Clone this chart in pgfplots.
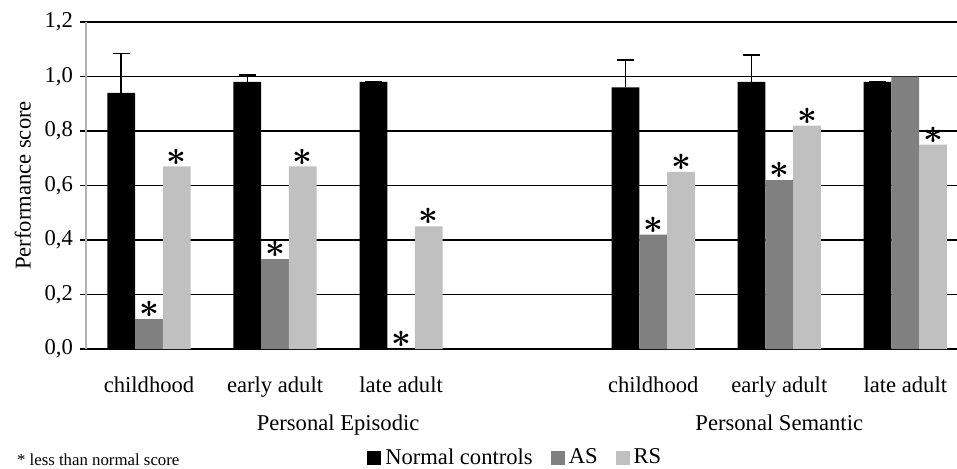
\documentclass[border=0pt]{standalone}
\usepackage{pgfplots}
\pgfplotsset{compat=1.18}
\usepackage{fontspec}
\setmainfont{Liberation Serif}
\definecolor{asgray}{HTML}{808080}
\definecolor{rsgray}{HTML}{C0C0C0}
\newcommand\lblfont{\fontsize{11.3}{13.5}\selectfont}
\newcommand\starfont{\fontsize{18}{18}\selectfont\boldmath}

\begin{document}
\begin{tikzpicture}
\begin{axis}[
  scale only axis, width=435.5pt, height=163.5pt,
  xmin=-0.5, xmax=6.41, ymin=0, ymax=1.2,
  ybar, bar width=0.22,
  axis x line=bottom, axis y line=left,
  axis line style={-},
  x axis line style={black, line width=0.7pt},
  y axis line style={draw=black!30, line width=0.6pt},
  xtick={0,1,2,4,5,6},
  xticklabels={childhood, early adult, late adult, childhood, early adult, late adult},
  xtick style={draw=none},
  xticklabel style={yshift=-7.5pt},
  ytick={0,0.2,0.4,0.6,0.8,1.0,1.2},
  ymajorgrids, major grid style={black, line width=0.7pt},
  ytick style={black, line width=0.7pt}, tick align=outside, major tick length=3pt,
  yticklabel style={/pgf/number format/.cd, fixed, fixed zerofill, precision=1, use comma, assume math mode=true},
  tick label style={font=\lblfont},
  ylabel={Performance score}, label style={font=\lblfont},
  legend columns=3,
  legend style={at={(0.494,-0.333)}, anchor=center, draw=none, fill=none, font=\lblfont,
    /tikz/every even column/.append style={column sep=7pt}},
  legend image code/.code={\fill[#1] (0pt,-3.5pt) rectangle (7pt,3.5pt);},
]
\addplot[fill=black, draw=none, bar shift=-0.22,
  error bars/.cd, y dir=plus, y explicit,
  error bar style={black, line width=0.8pt},
  error mark options={rotate=90, mark size=4.25pt, black, line width=0.8pt}]
  coordinates {(0,0.94) +- (0,0.145) (1,0.98) +- (0,0.025) (2,0.98) +- (0,0)
               (4,0.96) +- (0,0.10) (5,0.98) +- (0,0.10) (6,0.98) +- (0,0)};
\addlegendentry{Normal controls}
\addplot[fill=asgray, draw=none, bar shift=0,
  point meta=explicit symbolic, nodes near coords={\pgfplotspointmeta},
  nodes near coords style={font=\starfont, inner sep=0.5pt, anchor=south, black}]
  coordinates {(0,0.11) [$\ast$] (1,0.33) [$\ast$] (2,0) [$\ast$]
               (4,0.42) [$\ast$] (5,0.62) [$\ast$] (6,1.0) [{}]};
\addlegendentry{AS}
\addplot[fill=rsgray, draw=none, bar shift=0.22,
  point meta=explicit symbolic, nodes near coords={\pgfplotspointmeta},
  nodes near coords style={font=\starfont, inner sep=0.5pt, anchor=south, black}]
  coordinates {(0,0.67) [$\ast$] (1,0.67) [$\ast$] (2,0.45) [$\ast$]
               (4,0.65) [$\ast$] (5,0.82) [$\ast$] (6,0.75) [$\ast$]};
\addlegendentry{RS}
\coordinate (O) at (rel axis cs:0,0);
\coordinate (GE) at (axis cs:1.5,0);
\coordinate (GS) at (axis cs:5,0);
\end{axis}
\node[font=\lblfont, anchor=base] at ([yshift=-40.5pt]GE) {Personal Episodic};
\node[font=\lblfont, anchor=base] at ([yshift=-40.5pt]GS) {Personal Semantic};
\node[font=\fontsize{8.4}{10}\selectfont, anchor=base west] at ([shift={(-38pt,-58pt)}]O) {* less than normal score};
\pgfresetboundingbox
\path[use as bounding box] ([shift={(-43pt,-59.5pt)}]O) rectangle ([shift={(435.5pt,174.5pt)}]O);
\end{tikzpicture}
\end{document}
